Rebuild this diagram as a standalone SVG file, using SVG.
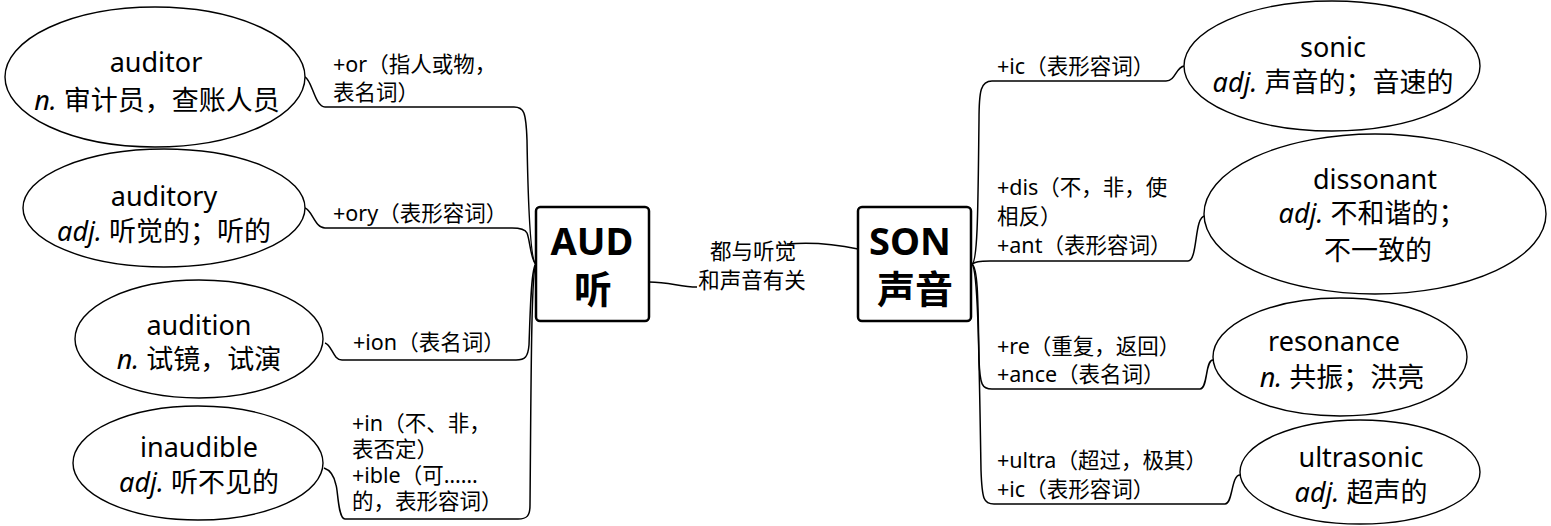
<svg xmlns="http://www.w3.org/2000/svg" width="1551" height="526" viewBox="0 0 1551 526">
<style>
.n{fill:#fff;stroke:#000;stroke-width:1.4}
.bx{fill:#fff;stroke:#000;stroke-width:2.5}
.c{fill:none;stroke:#000;stroke-width:1.5}
text{font-family:"Noto Sans","Noto Sans CJK SC",sans-serif;fill:#000}
.t{font-size:27px;text-anchor:middle}
.l{font-size:21.5px}
.m{font-size:21.5px;text-anchor:middle}
.b{font-size:38px;font-weight:bold;text-anchor:middle}
.i{font-style:italic}
</style>
<rect width="1551" height="526" fill="#fff"/>
<g id="connectors">
<path class="c" d="M536,264 C530,262 528,200 527,140 C526,112 524,107 514,107 L325,107 C315,107 312,80 305,77"/>
<path class="c" d="M536,264 C531,262 530,240 527,233 C525,229 520,228 512,228 L325,228 C315,228 312,210 305,208"/>
<path class="c" d="M536,264 C531,266 530,320 529,345 C528,357 525,360 516,360 L342,360 C333,360 332,345 325,343"/>
<path class="c" d="M536,264 C531,268 531,400 530,505 C530,516 527,519 518,519 L345,519 C338,519 338,490 336,485 C334,475 330,470 324,468"/>
<path class="c" d="M649,282 C670,282 680,287 697,287"/>
<path class="c" d="M787,244 C810,242 830,243 858,249"/>
<path class="c" d="M972,264 C978,262 978,200 979,120 C979,90 981,81 992,81 L1166,81 C1176,81 1176,66 1185,66"/>
<path class="c" d="M972,264 C976,262 978,261 990,261 L1188,261 C1198,261 1194,216 1205,216"/>
<path class="c" d="M972,264 C978,268 978,300 979,360 C980,385 982,389 992,389 L1200,389 C1208,389 1205,360 1213,360"/>
<path class="c" d="M972,264 C978,270 979,350 981,470 C982,500 984,504 994,504 L1225,504 C1233,504 1231,475 1240,475"/>
</g>
<g id="label-center"><text class="m" x="753" y="259">都与听觉</text><text class="m" x="752" y="288">和声音有关</text></g>
<g id="label-or"><text class="l" x="333" y="72">+or（指人或物，</text><text class="l" x="333" y="100">表名词）</text></g>
<g id="label-ory"><text class="l" x="333" y="221">+ory（表形容词）</text></g>
<g id="label-ion"><text class="l" x="353" y="350">+ion（表名词）</text></g>
<g id="label-in"><text class="l" x="352" y="431">+in（不、非，</text><text class="l" x="352" y="457">表否定）</text><text class="l" x="352" y="483">+ible（可……</text><text class="l" x="352" y="509">的，表形容词）</text></g>
<g id="label-ic"><text class="l" x="997" y="74">+ic（表形容词）</text></g>
<g id="label-dis"><text class="l" x="997" y="195">+dis（不，非，使</text><text class="l" x="997" y="224">相反）</text><text class="l" x="997" y="253">+ant（表形容词）</text></g>
<g id="label-re"><text class="l" x="997" y="354">+re（重复，返回）</text><text class="l" x="997" y="382">+ance（表名词）</text></g>
<g id="label-ultra"><text class="l" x="997" y="468">+ultra（超过，极其）</text><text class="l" x="997" y="497">+ic（表形容词）</text></g>
<g id="aud"><rect class="bx" x="536" y="207" width="113" height="114" rx="4"/><text class="b" x="592" y="255">AUD</text><text class="b" x="593" y="303">听</text></g>
<g id="son"><rect class="bx" x="858" y="207" width="113" height="114" rx="4"/><text class="b" x="910" y="255">SON</text><text class="b" x="915" y="303">声音</text></g>
<g id="auditor"><ellipse class="n" cx="155" cy="77" rx="150" ry="70"/><text class="t" x="156" y="72">auditor</text><text class="t" x="157" y="110"><tspan class="i">n.</tspan> 审计员，查账人员</text></g>
<g id="auditory"><ellipse class="n" cx="164" cy="208" rx="141" ry="59"/><text class="t" x="164" y="206">auditory</text><text class="t" x="164" y="241"><tspan class="i">adj.</tspan> 听觉的；听的</text></g>
<g id="audition"><ellipse class="n" cx="199" cy="339" rx="124" ry="59"/><text class="t" x="199" y="335">audition</text><text class="t" x="199" y="369"><tspan class="i">n.</tspan> 试镜，试演</text></g>
<g id="inaudible"><ellipse class="n" cx="198" cy="463" rx="125" ry="57"/><text class="t" x="199" y="457">inaudible</text><text class="t" x="199" y="492"><tspan class="i">adj.</tspan> 听不见的</text></g>
<g id="sonic"><ellipse class="n" cx="1332" cy="66" rx="148" ry="65"/><text class="t" x="1333" y="57">sonic</text><text class="t" x="1333" y="92"><tspan class="i">adj.</tspan> 声音的；音速的</text></g>
<g id="dissonant"><ellipse class="n" cx="1375" cy="214" rx="171" ry="80"/><text class="t" x="1375" y="189">dissonant</text><text class="t" x="1372" y="223"><tspan class="i">adj.</tspan> 不和谐的；</text><text class="t" x="1378" y="260">不一致的</text></g>
<g id="resonance"><ellipse class="n" cx="1340" cy="357" rx="127" ry="59"/><text class="t" x="1334" y="351">resonance</text><text class="t" x="1342" y="387"><tspan class="i">n.</tspan> 共振；洪亮</text></g>
<g id="ultrasonic"><ellipse class="n" cx="1360" cy="472" rx="120" ry="52"/><text class="t" x="1361" y="467">ultrasonic</text><text class="t" x="1361" y="502"><tspan class="i">adj.</tspan> 超声的</text></g>
</svg>
